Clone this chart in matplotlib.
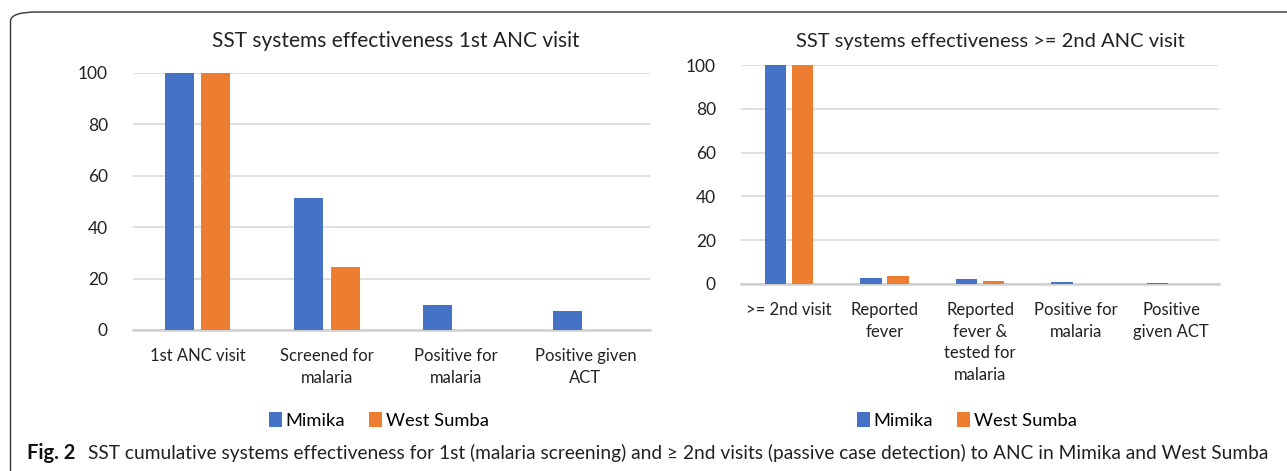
import numpy as np
import matplotlib
matplotlib.use("Agg")
import matplotlib.pyplot as plt
from matplotlib.patches import FancyBboxPatch

plt.rcParams['font.family'] = ['Lato', 'DejaVu Sans']

# data
series = ['Mimika', 'West Sumba']
colors = ['#4472C4', '#ED7D31']

cats1 = ['1st ANC visit', 'Screened for\nmalaria', 'Positive for\nmalaria', 'Positive given\nACT']
mimika1 = [100, 51.2, 9.6, 7.4]
sumba1 = [100, 24.6, 0, 0]

cats2 = ['>= 2nd visit', 'Reported\nfever', 'Reported\nfever &\ntested for\nmalaria', 'Positive for\nmalaria', 'Positive\ngiven ACT']
mimika2 = [100, 2.4, 2.1, 0.6, 0.3]
sumba2 = [100, 3.3, 1.4, 0, 0]

titles = ['SST systems effectiveness 1st ANC visit', 'SST systems effectiveness >= 2nd ANC visit']

W, H = 1287, 471
fig = plt.figure(figsize=(W / 100, H / 100), dpi=100)

# rounded frame around the figure panel
frame = FancyBboxPatch((10.5 / W, -0.1), 1.2, 1.1 - 12 / H, transform=fig.transFigure,
                       boxstyle='round,pad=0,rounding_size=0.02', fc='none', ec='#333333', lw=1.0)
fig.patches.append(frame)


def panel(rect, cats, m, s, title, title_xy, leg_xy, tsize):
    ax = fig.add_axes(rect)
    x = np.arange(len(cats))
    w = 0.225
    off = 0.141
    ax.bar(x - off, m, w, color=colors[0], label=series[0], zorder=3, clip_on=False)
    ax.bar(x + off, s, w, color=colors[1], label=series[1], zorder=3, clip_on=False)
    ax.set_xlim(-0.5, len(cats) - 0.5)
    ax.set_ylim(0, 100)
    ax.set_yticks([0, 20, 40, 60, 80, 100])
    ax.yaxis.grid(True, color='#D9D9D9', lw=1.2, zorder=0)
    ax.set_axisbelow(True)
    for sp in ['top', 'right', 'left']:
        ax.spines[sp].set_visible(False)
    ax.spines['bottom'].set_color('#D0D0D0')
    ax.spines['bottom'].set_linewidth(1.8)
    ax.set_xticks(x)
    ax.set_xticklabels(cats, fontsize=12, color='#222222', linespacing=1.45)
    ax.tick_params(axis='both', length=0, colors='#222222')
    ax.tick_params(axis='y', pad=18, labelsize=12.5)
    ax.tick_params(axis='x', pad=13)
    fig.text(title_xy[0] / W, 1 - title_xy[1] / H, title, ha='center', va='center',
             fontsize=tsize, color='#222222')
    fig.legend(handles=ax.patches[:1] + ax.patches[len(cats):len(cats) + 1],
               labels=series, loc='center', bbox_to_anchor=(leg_xy[0] / W, 1 - leg_xy[1] / H),
               ncol=2, frameon=False, fontsize=13.2, handlelength=0.7, handleheight=0.9,
               handletextpad=0.2, columnspacing=1.3)
    return ax


panel([133 / W, 1 - 330 / H, (650 - 133) / W, (330 - 72.7) / H], cats1, mimika1, sumba1,
      titles[0], (396, 40.7), (379, 420.5), 15)
panel([741 / W, 1 - 283.7 / H, (1219 - 741) / W, (283.7 - 65.3) / H], cats2, mimika2, sumba2,
      titles[1], (990, 41.7), (967, 420.5), 14.5)

fig.text(27 / W, 1 - 453 / H, 'Fig. 2', fontsize=14.5, fontweight='bold', va='center', ha='left',
         color='#111111')
fig.text(88 / W, 1 - 453 / H,
         'SST cumulative systems effectiveness for 1st (malaria screening) and ≥ 2nd visits '
         '(passive case detection) to ANC in Mimika and West Sumba',
         fontsize=13.8, va='center', ha='left', color='#222222')

fig.savefig('out.png', dpi=100)
